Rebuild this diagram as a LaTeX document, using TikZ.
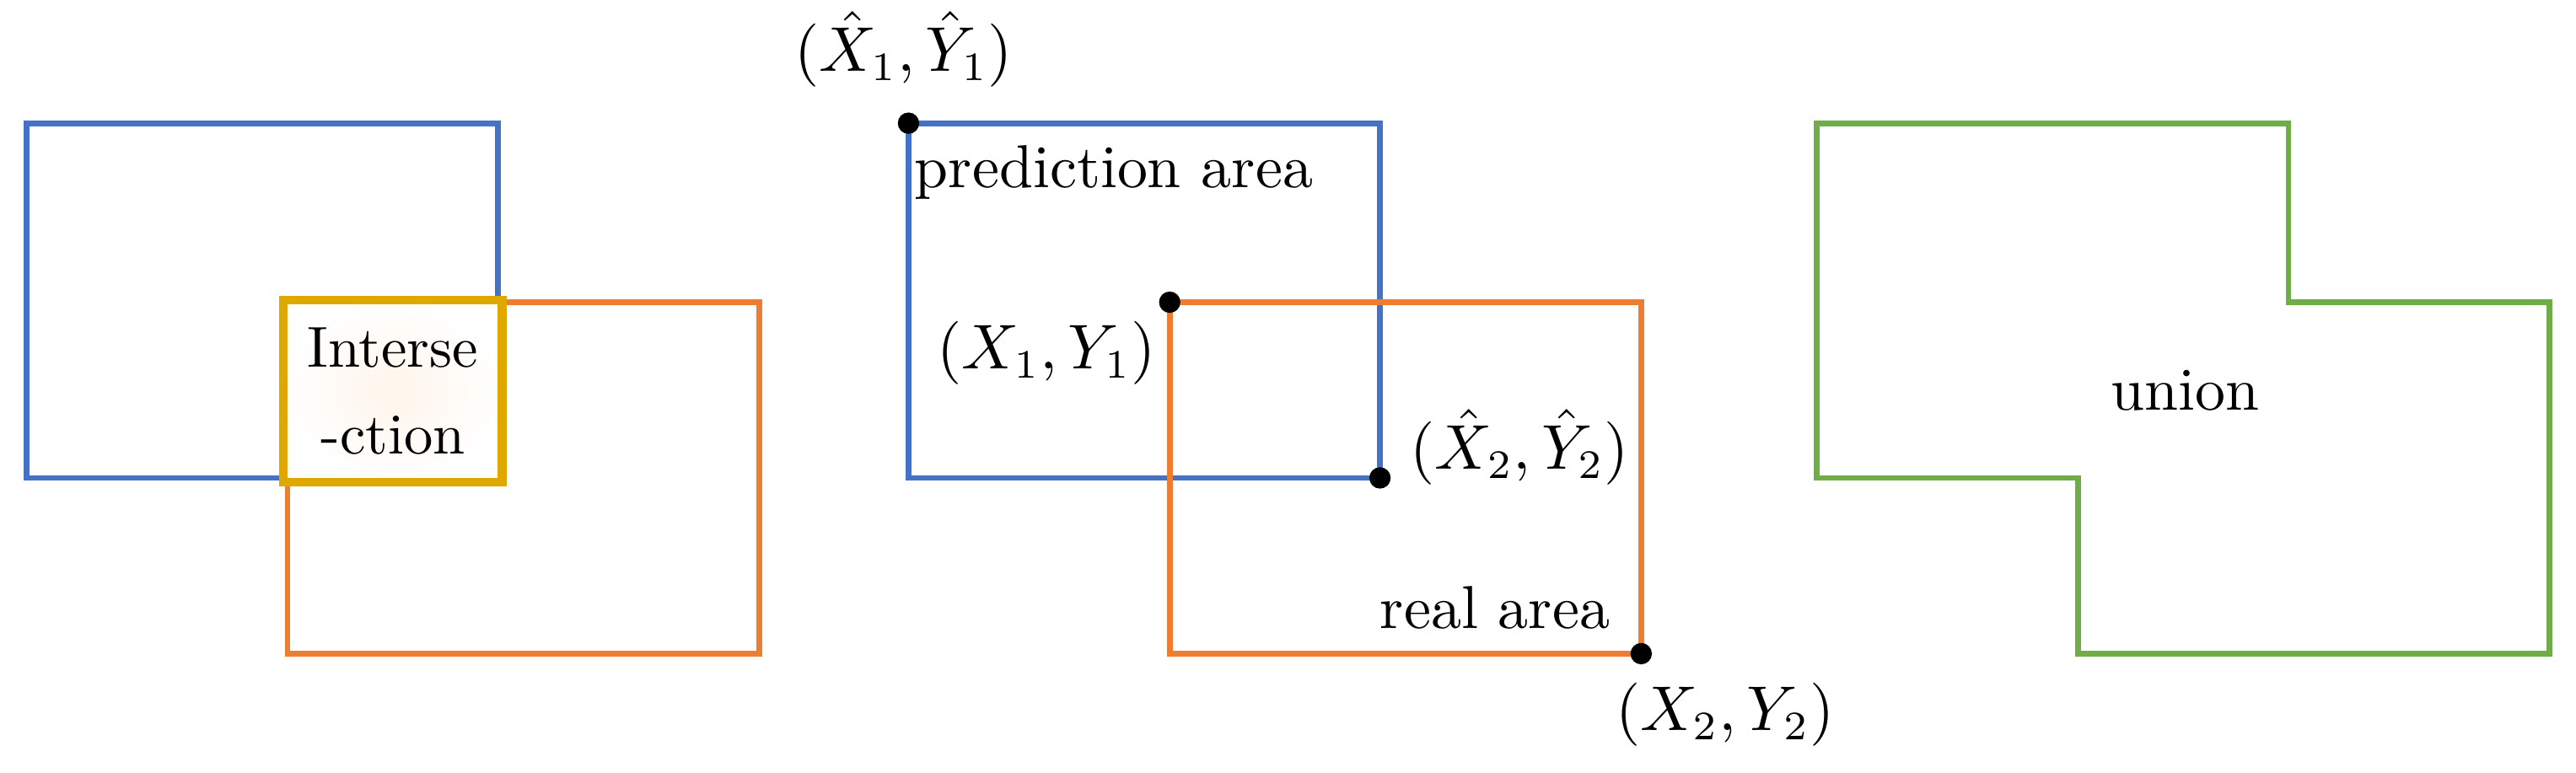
\documentclass[tikz,border=0pt]{standalone}
\usepackage{amsmath}
\definecolor{cblue}{HTML}{4472C4}
\definecolor{corange}{HTML}{ED7D31}
\definecolor{cgreen}{HTML}{70AD47}
\definecolor{cgold}{HTML}{DFA800}
\begin{document}
\begin{tikzpicture}[x=0.01cm,y=-0.01cm,
  bl/.style={draw=cblue,line width=1pt},
  orr/.style={draw=corange,line width=1pt},
  dot/.style={circle,fill=black,inner sep=0pt,minimum size=0.13cm},
  lab/.style={font=\fontsize{10.5}{13}\selectfont,inner sep=1pt}]
\useasboundingbox (0,0) rectangle (1568,470.6);
% left
\draw[bl] (16,75) rectangle (303,291);
\draw[orr] (175,184) rectangle (462,398);
\node[draw=cgold,line width=1.5pt,inner color=orange!8,outer color=white,minimum width=1.33cm,minimum height=1.11cm,inner sep=0pt,anchor=north west,align=center,font=\fontsize{10}{15}\selectfont] (inter) at (170,180) {Interse\\-ction};
% middle
\draw[bl] (553,75) rectangle (840,291);
\draw[orr] (712,184) rectangle (999,398);
\node[dot] (p1) at (553,75) {};
\node[dot] (r1) at (712,184) {};
\node[dot] (p2) at (840,291) {};
\node[dot] (r2) at (999,398) {};
\node[lab] (lp1) at (550,30) {$(\hat{X}_1,\hat{Y}_1)$};
\node[lab] (pa) at (678,105) {prediction area};
\node[lab] (lr1) at (637,215) {$(X_1,Y_1)$};
\node[lab] (lp2) at (925,272) {$(\hat{X}_2,\hat{Y}_2)$};
\node[lab] (ra) at (910,370) {real area};
\node[lab] (lr2) at (1050,435) {$(X_2,Y_2)$};
% right
\draw[draw=cgreen,line width=1pt] (1106,75) -- (1393,75) -- (1393,184) -- (1552,184) -- (1552,398) -- (1265,398) -- (1265,291) -- (1106,291) -- cycle;
\node[lab] (un) at (1330,238) {union};
\end{tikzpicture}
\end{document}
